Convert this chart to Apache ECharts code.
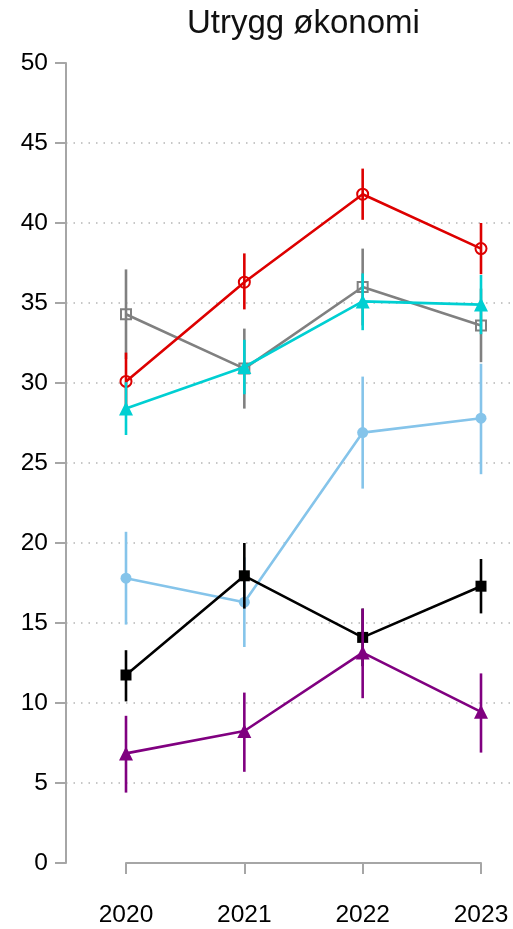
<!DOCTYPE html>
<html>
<head>
<meta charset="utf-8">
<script src="https://cdn.jsdelivr.net/npm/echarts@6/dist/echarts.min.js"></script>
<style>
  html, body { margin: 0; padding: 0; background: #fff; }
  #app { width: 513px; height: 929px; }
</style>
</head>
<body>
<div id="app"></div>
<script>
const app = document.getElementById("app");
const myChart = echarts.init(app);

const years = [2020, 2021, 2022, 2023];
const yTicks = [0, 5, 10, 15, 20, 25, 30, 35, 40, 45, 50];

// verdier og feilstolper (nedre / øvre)
const redVal = [30.1, 36.3, 41.8, 38.4];
const redLo = [28.3, 34.6, 40.2, 36.8];
const redHi = [31.9, 38.1, 43.4, 40.0];

const grayVal = [34.3, 30.9, 36.0, 33.6];
const grayLo = [31.5, 28.4, 33.6, 31.3];
const grayHi = [37.1, 33.4, 38.4, 35.9];

const cyanVal = [28.4, 31.0, 35.1, 34.9];
const cyanLo = [26.75, 29.3, 33.3, 33.05];
const cyanHi = [30.05, 32.7, 36.85, 36.75];

const blueVal = [17.8, 16.3, 26.9, 27.8];
const blueLo = [14.9, 13.5, 23.4, 24.3];
const blueHi = [20.7, 19.1, 30.4, 31.2];

const blackVal = [11.75, 17.95, 14.1, 17.3];
const blackLo = [10.1, 15.9, 12.3, 15.6];
const blackHi = [13.3, 20.0, 15.9, 19.0];

const purpleVal = [6.85, 8.25, 13.15, 9.45];
const purpleLo = [4.4, 5.7, 10.3, 6.9];
const purpleHi = [9.2, 10.65, 15.9, 11.85];

const FONT = "Liberation Sans";

const groups = [
  { name: "Serie 1", color: "#808080", symbol: "rect", size: 10, open: true, val: grayVal, lo: grayLo, hi: grayHi },
  { name: "Serie 2", color: "#dd0000", symbol: "circle", size: 11, open: true, val: redVal, lo: redLo, hi: redHi },
  { name: "Serie 3", color: "#85c4ea", symbol: "circle", size: 11, open: false, val: blueVal, lo: blueLo, hi: blueHi },
  { name: "Serie 4", color: "#000000", symbol: "rect", size: 11, open: false, val: blackVal, lo: blackLo, hi: blackHi },
  { name: "Serie 5", color: "#800080", symbol: "triangle", size: 14, open: false, val: purpleVal, lo: purpleLo, hi: purpleHi },
  { name: "Serie 6", color: "#00cfd2", symbol: "triangle", size: 14, open: false, val: cyanVal, lo: cyanLo, hi: cyanHi },
];

const series = [];
groups.forEach(function (g, gi) {
  series.push({
    name: g.name + " feil",
    type: "custom",
    xAxisIndex: 0,
    yAxisIndex: 0,
    z: 2 + gi * 2,
    silent: true,
    data: years.map(function (y, i) {
      return [y, g.lo[i], g.hi[i]];
    }),
    renderItem: function (params, api) {
      const p1 = api.coord([api.value(0), api.value(1)]);
      const p2 = api.coord([api.value(0), api.value(2)]);
      return {
        type: "line",
        shape: { x1: p1[0], y1: p1[1], x2: p2[0], y2: p2[1] },
        style: { stroke: g.color, lineWidth: 2.6 },
      };
    },
  });
  series.push({
    name: g.name,
    type: "line",
    xAxisIndex: 0,
    yAxisIndex: 0,
    z: 3 + gi * 2,
    symbol: g.symbol,
    symbolSize: g.size,
    showAllSymbol: true,
    lineStyle: { color: g.color, width: 2.6 },
    itemStyle: g.open
      ? { color: "rgba(255,255,255,0)", borderColor: g.color, borderWidth: 2 }
      : { color: g.color, borderWidth: 0 },
    emphasis: { disabled: true },
    animation: false,
    data: years.map(function (y, i) {
      return [y, g.val[i]];
    }),
  });
});

const option = {
  backgroundColor: "#ffffff",
  animation: false,
  title: {
    text: "Utrygg økonomi",
    left: 182,
    top: 2,
    textStyle: { color: "#111", fontSize: 33, fontWeight: "normal", fontFamily: FONT },
  },
  grid: [
    { left: 66, right: 0, top: 63, bottom: 66 },
    { left: 126, right: 32, top: 63, bottom: 66 },
  ],
  xAxis: [
    {
      gridIndex: 0,
      type: "value",
      min: 2020 - 60 / 118.33,
      max: 2023 + 32 / 118.33,
      show: false,
    },
    {
      gridIndex: 1,
      type: "value",
      min: 2020,
      max: 2023,
      interval: 1,
      offset: 20,
      axisLine: { show: true, lineStyle: { color: "#a6a6a6", width: 2 } },
      axisTick: { show: true, length: 11, lineStyle: { color: "#a6a6a6", width: 2 } },
      axisLabel: {
        margin: 20,
        fontSize: 24.5,
        color: "#000",
        fontFamily: FONT,
        formatter: function (v) {
          return String(v);
        },
      },
      splitLine: { show: false },
    },
  ],
  yAxis: [
    {
      gridIndex: 0,
      type: "value",
      min: yTicks[0],
      max: yTicks[yTicks.length - 1],
      interval: 5,
      axisLine: { show: true, lineStyle: { color: "#a6a6a6", width: 2 } },
      axisTick: { show: true, length: 11, lineStyle: { color: "#a6a6a6", width: 2 } },
      axisLabel: { margin: 18, fontSize: 24.5, color: "#000", fontFamily: FONT },
      splitLine: {
        show: true,
        showMinLine: false,
        showMaxLine: false,
        lineStyle: { color: "#b5b5b5", width: 1.5, type: [1.5, 6] },
      },
    },
    {
      gridIndex: 1,
      type: "value",
      min: 0,
      max: 50,
      show: false,
    },
  ],
  series: series,
};

myChart.setOption(option);
</script>
</body>
</html>
